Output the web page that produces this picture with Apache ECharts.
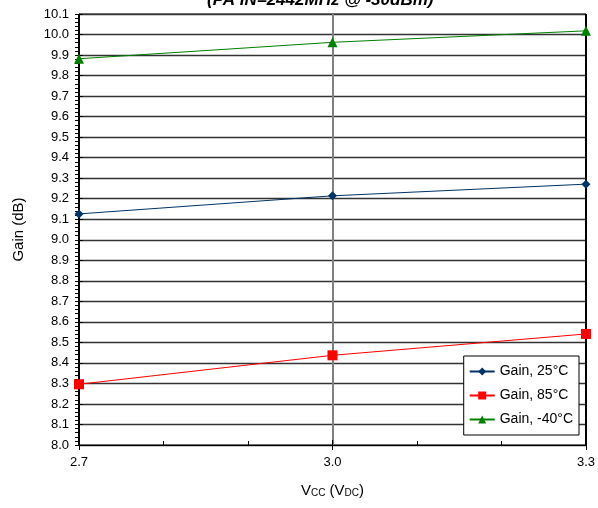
<!DOCTYPE html>
<html>
<head>
<meta charset="utf-8">
<script src="https://cdn.jsdelivr.net/npm/echarts@6/dist/echarts.min.js"></script>
<style>html,body{margin:0;padding:0;background:#fff;}#c{width:598px;height:508px;}</style>
</head>
<body>
<div id="c"></div>
<script>
const vcc = [2.7, 3.0, 3.3];
const gain25 = [9.126, 9.214, 9.271];
const gain85 = [8.296, 8.437, 8.541];
const gainM40 = [9.882, 9.962, 10.018];
const seriesNames = ['Gain, 25°C', 'Gain, 85°C', 'Gain, -40°C'];
const titleText = '(PA IN=2442MHz @ -30dBm)';

const FONT = 'Liberation Sans, Arial, sans-serif';
const pairs = arr => vcc.map((x, i) => [x, arr[i]]);

const chart = echarts.init(document.getElementById('c'), null, {renderer: 'canvas'});
const xBase = {
  type: 'value', min: 2.7, max: 3.3, interval: 0.3,
  gridIndex: 0, position: 'bottom'
};
chart.setOption({
  animation: false,
  backgroundColor: '#fff',
  title: {
    text: titleText, left: 207, top: -8, padding: 0,
    textStyle: {fontFamily: FONT, fontSize: 17, fontWeight: 'bold', fontStyle: 'italic', color: '#000'}
  },
  grid: {left: 79, top: 14, width: 508, height: 431, show: true, borderColor: '#000', borderWidth: 1, containLabel: false},
  legend: {
    orient: 'vertical', right: 19, top: 356,
    backgroundColor: '#fff', borderColor: '#000', borderWidth: 1,
    padding: [8, 6, 8, 5], itemGap: 9, itemWidth: 25, itemHeight: 10,
    textStyle: {fontFamily: FONT, fontSize: 14, color: '#000', lineHeight: 15},
    data: seriesNames
  },
  xAxis: [
    Object.assign({}, xBase, {
      name: '{a|V}{s|CC}{a| (V}{s|DC}{a|)}',
      nameLocation: 'middle', nameGap: 35,
      nameTextStyle: {
        rich: {
          a: {fontFamily: FONT, fontSize: 15, color: '#000', lineHeight: 18, verticalAlign: 'bottom'},
          s: {fontFamily: FONT, fontSize: 10, color: '#000', lineHeight: 14, verticalAlign: 'bottom'}
        }
      },
      axisLine: {show: true, lineStyle: {color: '#000', width: 1}},
      axisTick: {show: true, inside: false, length: 5, lineStyle: {color: '#000'}},
      axisLabel: {fontFamily: FONT, fontSize: 13, color: '#000', margin: 11, formatter: v => v.toFixed(1)},
      splitLine: {show: true, lineStyle: {color: ['#000', '#808080', '#000'], width: 2}},
      minorTick: {show: false}
    }),
    Object.assign({}, xBase, {
      axisLine: {show: false},
      axisTick: {show: true, inside: true, length: 5, lineStyle: {color: '#000'}},
      axisLabel: {show: false},
      splitLine: {show: false},
      minorTick: {show: true, splitNumber: 3, length: 4, lineStyle: {color: '#000'}}
    })
  ],
  yAxis: [
    {
      type: 'value', min: 8.0, max: 10.1, interval: 0.1,
      name: 'Gain (dB)', nameLocation: 'middle', nameGap: 53,
      nameTextStyle: {fontFamily: FONT, fontSize: 15, color: '#000'},
      axisLine: {show: true, lineStyle: {color: '#000', width: 1}},
      axisTick: {show: true, inside: false, length: 4, lineStyle: {color: '#000'}},
      axisLabel: {fontFamily: FONT, fontSize: 13, color: '#000', margin: 10, formatter: v => v.toFixed(1)},
      splitLine: {show: true, lineStyle: {color: '#333', width: 1.3}},
      minorTick: {show: true, splitNumber: 5, length: 4, lineStyle: {color: '#000'}}
    },
    {
      type: 'value', min: 8.0, max: 10.1, interval: 0.1, position: 'left',
      axisLine: {show: false},
      axisTick: {show: true, inside: true, length: 4, lineStyle: {color: '#000'}},
      axisLabel: {show: false},
      splitLine: {show: false}
    }
  ],
  series: [
    {name: seriesNames[0], type: 'line', data: pairs(gain25), symbol: 'diamond', symbolSize: 9,
     itemStyle: {color: '#003366'}, lineStyle: {color: '#003366', width: 1}},
    {name: seriesNames[1], type: 'line', data: pairs(gain85), symbol: 'rect', symbolSize: 10,
     itemStyle: {color: '#ff0000'}, lineStyle: {color: '#ff0000', width: 1}},
    {name: seriesNames[2], type: 'line', data: pairs(gainM40), symbol: 'triangle', symbolSize: 10,
     itemStyle: {color: '#008000'}, lineStyle: {color: '#008000', width: 1}}
  ]
});
</script>
</body>
</html>
